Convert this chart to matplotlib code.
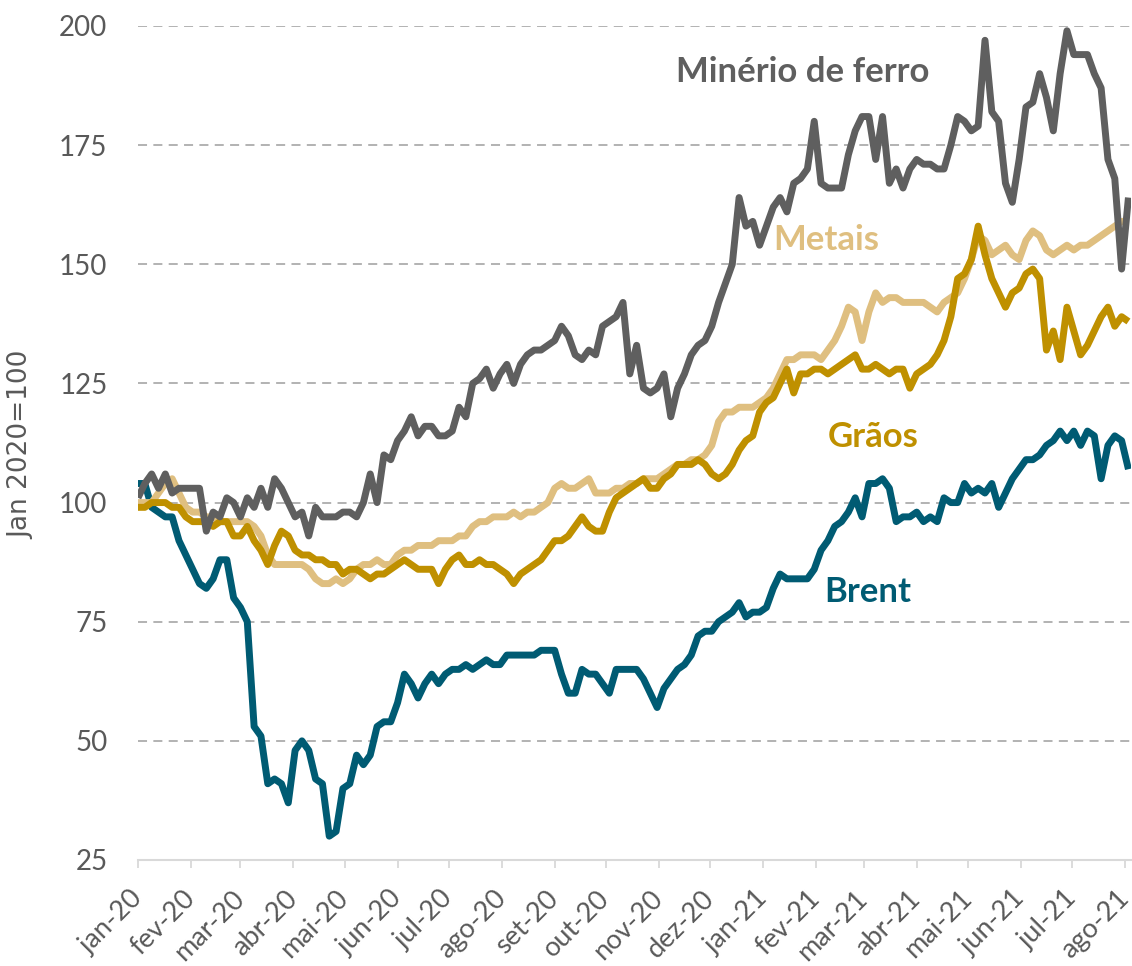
import matplotlib
matplotlib.use("Agg")
import matplotlib.pyplot as plt
import matplotlib.dates as mdates
import pandas as pd

# ---- data (index, Jan 2020 = 100), readings every 4 days ----
dates = pd.date_range("2020-01-01", periods=146, freq="4D")

minerio = [101, 104, 106, 103, 106, 102, 103, 103, 103, 103,
           94, 98, 97, 101, 100, 97, 101, 99, 103, 99,
           105, 103, 100, 97, 98, 93, 99, 97, 97, 97,
           98, 98, 97, 100, 106, 100, 110, 109, 113, 115,
           118, 114, 116, 116, 114, 114, 115, 120, 118, 125,
           126, 128, 124, 127, 129, 125, 129, 131, 132, 132,
           133, 134, 137, 135, 131, 130, 132, 131, 137, 138,
           139, 142, 127, 133, 124, 123, 124, 127, 118, 124,
           127, 131, 133, 134, 137, 142, 146, 150, 164, 158,
           159, 154, 158, 162, 164, 161, 167, 168, 170, 180,
           167, 166, 166, 166, 173, 178, 181, 181, 172, 181,
           167, 170, 166, 170, 172, 171, 171, 170, 170, 175,
           181, 180, 178, 179, 197, 182, 180, 167, 163, 172,
           183, 184, 190, 185, 178, 190, 199, 194, 194, 194,
           190, 187, 172, 168, 149, 164]

metais = [100, 100, 100, 102, 104, 105, 102, 99, 98, 98,
          97, 97, 96, 96, 96, 96, 96, 95, 93, 89,
          87, 87, 87, 87, 87, 86, 84, 83, 83, 84,
          83, 84, 86, 87, 87, 88, 87, 87, 89, 90,
          90, 91, 91, 91, 92, 92, 92, 93, 93, 95,
          96, 96, 97, 97, 97, 98, 97, 98, 98, 99,
          100, 103, 104, 103, 103, 104, 105, 102, 102, 102,
          103, 103, 104, 104, 105, 105, 105, 106, 107, 108,
          108, 109, 109, 110, 112, 117, 119, 119, 120, 120,
          120, 121, 122, 124, 127, 130, 130, 131, 131, 131,
          130, 132, 134, 137, 141, 140, 134, 140, 144, 142,
          143, 143, 142, 142, 142, 142, 141, 140, 142, 143,
          144, 147, 151, 156, 155, 152, 153, 154, 152, 151,
          155, 157, 156, 153, 152, 153, 154, 153, 154, 154,
          155, 156, 157, 158, 159, 159]

graos = [99, 99, 100, 100, 100, 99, 99, 97, 96, 96,
         96, 95, 96, 96, 93, 93, 95, 92, 90, 87,
         91, 94, 93, 90, 89, 89, 88, 88, 87, 87,
         85, 86, 86, 85, 84, 85, 85, 86, 87, 88,
         87, 86, 86, 86, 83, 86, 88, 89, 87, 87,
         88, 87, 87, 86, 85, 83, 85, 86, 87, 88,
         90, 92, 92, 93, 95, 97, 95, 94, 94, 98,
         101, 102, 103, 104, 105, 103, 103, 105, 106, 108,
         108, 108, 109, 108, 106, 105, 106, 108, 111, 113,
         114, 119, 121, 122, 125, 128, 123, 127, 127, 128,
         128, 127, 128, 129, 130, 131, 128, 128, 129, 128,
         127, 128, 128, 124, 127, 128, 129, 131, 134, 139,
         147, 148, 151, 158, 152, 147, 144, 141, 144, 145,
         148, 149, 147, 132, 136, 130, 141, 136, 131, 133,
         136, 139, 141, 137, 139, 138]

brent = [104, 104, 99, 98, 97, 97, 92, 89, 86, 83,
         82, 84, 88, 88, 80, 78, 75, 53, 51, 41,
         42, 41, 37, 48, 50, 48, 42, 41, 30, 31,
         40, 41, 47, 45, 47, 53, 54, 54, 58, 64,
         62, 59, 62, 64, 62, 64, 65, 65, 66, 65,
         66, 67, 66, 66, 68, 68, 68, 68, 68, 69,
         69, 69, 64, 60, 60, 65, 64, 64, 62, 60,
         65, 65, 65, 65, 63, 60, 57, 61, 63, 65,
         66, 68, 72, 73, 73, 75, 76, 77, 79, 76,
         77, 77, 78, 82, 85, 84, 84, 84, 84, 86,
         90, 92, 95, 96, 98, 101, 97, 104, 104, 105,
         103, 96, 97, 97, 98, 96, 97, 96, 101, 100,
         100, 104, 102, 103, 102, 104, 99, 102, 105, 107,
         109, 109, 110, 112, 113, 115, 113, 115, 112, 115,
         114, 105, 112, 114, 113, 107]

month_names = ["jan", "fev", "mar", "abr", "mai", "jun", "jul", "ago",
               "set", "out", "nov", "dez"]
yticks = [25, 50, 75, 100, 125, 150, 175, 200]

c_min = "#5F5F5F"
c_met = "#DFBF80"
c_gra = "#BF9000"
c_bre = "#005B73"

W, H = 1132, 966
fig = plt.figure(figsize=(W / 100, H / 100), dpi=100)
ax = fig.add_axes([138 / W, 1 - 860 / H, (1131 - 138) / W, (860 - 26) / H])

kw = dict(lw=5, solid_joinstyle="round", solid_capstyle="butt", zorder=3)
ax.plot(dates, brent, color=c_bre, **kw)
ax.plot(dates, metais, color=c_met, **kw)
ax.plot(dates, graos, color=c_gra, **kw)
ax.plot(dates, minerio, color=c_min, **kw)

ax.set_ylim(25, 200)
ax.set_xlim(pd.Timestamp("2020-01-01"), pd.Timestamp("2021-08-04 12:00"))
ax.set_yticks(yticks)
for v in yticks[1:]:
    ax.axhline(v, color="#ADADAD", lw=1.3, ls=(0, (5, 3.5)), zorder=1)

for s in ["top", "right", "left"]:
    ax.spines[s].set_visible(False)
ax.spines["bottom"].set_color("#D9D9D9")
ax.spines["bottom"].set_linewidth(1.5)

ax.xaxis.set_major_locator(mdates.MonthLocator())
ax.xaxis.set_major_formatter(
    plt.FuncFormatter(lambda x, p: "%s-%s" % (month_names[mdates.num2date(x).month - 1],
                                              mdates.num2date(x).strftime("%y"))))
ax.tick_params(axis="x", direction="out", length=6, width=1.3, color="#D9D9D9",
               labelsize=19.5, labelcolor="#595959", pad=19)
ax.tick_params(axis="y", length=0, labelsize=20, labelcolor="#595959", pad=22)
for lab in ax.get_xticklabels():
    lab.set_rotation(45)
    lab.set_ha("right")
    lab.set_va("center")
    lab.set_rotation_mode("anchor")
    lab.set_fontfamily("Lato")
for lab in ax.get_yticklabels():
    lab.set_fontfamily("Lato")

fig.text(21 / W, 1 - 445 / H, "Jan 2020=100", rotation=90, ha="center", va="center",
         fontsize=19, color="#595959", family=["Liberation Sans Narrow", "DejaVu Sans"])

lbl = dict(fontsize=25, fontweight="bold", family="Lato", va="center", ha="left")
fig.text(676 / W, 1 - 72 / H, "Minério de ferro", color=c_min, **lbl)
fig.text(773 / W, 1 - 240 / H, "Metais", color=c_met, **lbl)
fig.text(828 / W, 1 - 437 / H, "Grãos", color=c_gra, **lbl)
fig.text(824 / W, 1 - 592 / H, "Brent", color=c_bre, **lbl)

fig.savefig("out.png", dpi=100)
